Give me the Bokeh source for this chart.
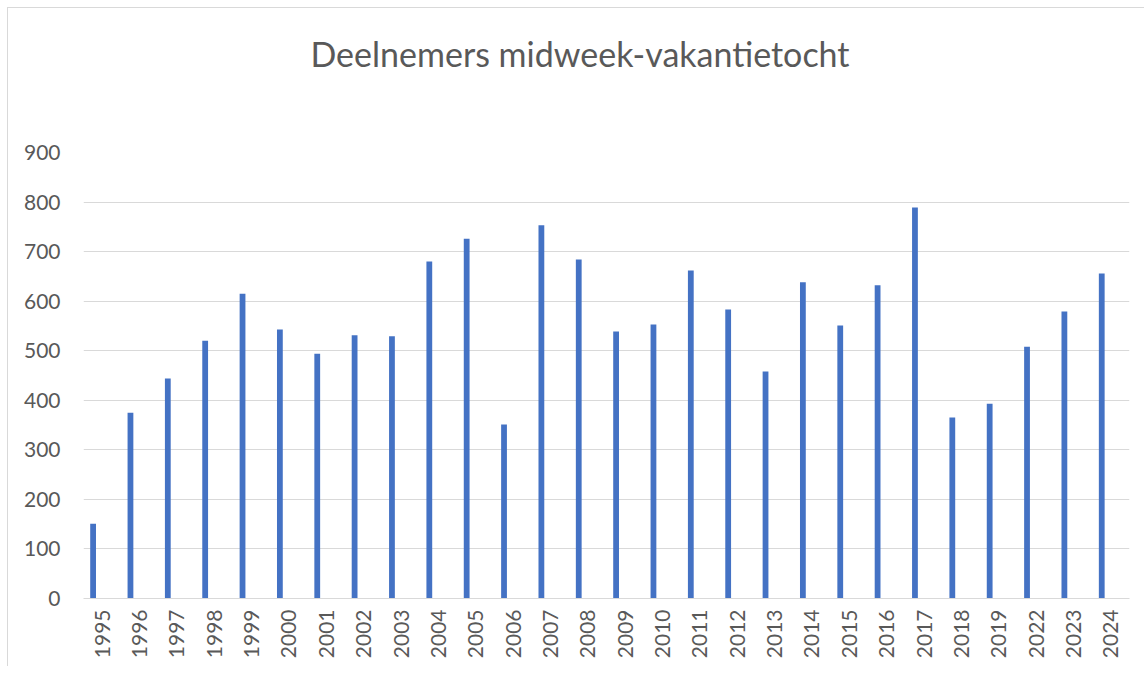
import math
from bokeh.plotting import figure
from bokeh.models import ColumnDataSource, FactorRange, Range1d, SingleIntervalTicker, Title
from bokeh.transform import dodge
from bokeh.embed import file_html
from bokeh.resources import INLINE

years = ["1995", "1996", "1997", "1998", "1999", "2000", "2001", "2002", "2003",
         "2004", "2005", "2006", "2007", "2008", "2009", "2010", "2011", "2012",
         "2013", "2014", "2015", "2016", "2017", "2018", "2019", "2022", "2023", "2024"]
participants = [151, 375, 444, 520, 615, 543, 494, 531, 529,
                680, 726, 351, 753, 684, 539, 553, 662, 583,
                458, 638, 551, 632, 789, 365, 393, 508, 579, 656]

title_text = "Deelnemers midweek-vakantietocht"
font = "Lato"
text_color = "#595959"
grid_color = "#D9D9D9"
bar_color = "#4472C4"

source = ColumnDataSource(data=dict(year=years, value=participants))

p = figure(width=1137, height=659, output_backend="svg", toolbar_location=None,
           x_range=FactorRange(factors=years, range_padding=0),
           y_range=Range1d(0, 900),
           min_border_left=75, min_border_right=16, min_border_top=144,
           min_border_bottom=69, title=None)
p.styles = {"margin-left": "7px", "margin-top": "7px",
            "border-top": "1px solid #D9D9D9", "border-left": "1px solid #D9D9D9"}

p.vbar(x=dodge("year", -0.243, range=p.x_range), top="value", width=0.155,
       source=source, fill_color=bar_color, line_color=None)

# spacer between the title and the plot frame
p.add_layout(Title(text=" ", text_font_size="10px", standoff=64), "above")
p.add_layout(Title(text=title_text, align="left", offset=227, vertical_align="top",
                   standoff=0, text_font=font, text_font_size="34px",
                   text_font_style="normal", text_color=text_color), "above")

p.outline_line_color = None
p.border_fill_color = "white"
p.background_fill_color = "white"

p.xgrid.grid_line_color = None
p.ygrid.grid_line_color = grid_color
p.ygrid.grid_line_width = 1

p.yaxis.ticker = SingleIntervalTicker(interval=100)
p.yaxis.axis_line_color = None
p.yaxis.major_tick_line_color = None
p.yaxis.minor_tick_line_color = None
p.yaxis.major_label_text_font = font
p.yaxis.major_label_text_font_size = "21px"
p.yaxis.major_label_text_color = text_color
p.yaxis.major_label_standoff = 17

p.xaxis.axis_line_color = grid_color
p.xaxis.major_tick_line_color = None
p.xaxis.minor_tick_line_color = None
p.xaxis.major_label_orientation = math.pi / 2
p.xaxis.major_label_text_font = font
p.xaxis.major_label_text_font_size = "21px"
p.xaxis.major_label_text_color = text_color
p.xaxis.major_label_standoff = 5

open("out.html", "w").write(file_html(p, INLINE))
